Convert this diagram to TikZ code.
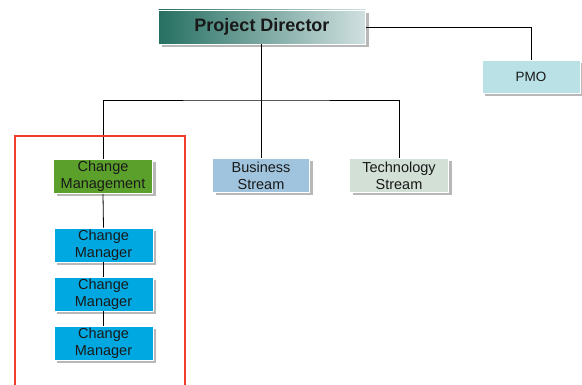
\documentclass[tikz,border=0pt]{standalone}
\usepackage{fontspec}
\setmainfont{Liberation Sans}
\usepackage{xcolor}
\usepackage{tikz}
\usetikzlibrary{shadows}

\definecolor{pdteal}{RGB}{38,112,98}
\definecolor{pdlight}{RGB}{208,224,224}
\definecolor{pmocyan}{RGB}{186,226,230}
\definecolor{chggreen}{RGB}{92,160,44}
\definecolor{busblue}{RGB}{160,196,222}
\definecolor{techgrey}{RGB}{210,224,214}
\definecolor{mgrblue}{RGB}{0,168,226}
\definecolor{frame}{RGB}{240,62,44}

\begin{document}
\begin{tikzpicture}[x=1pt,y=-1pt,
  box/.style={minimum width=99pt, minimum height=34pt, inner sep=1pt, align=center,
    draw=white, line width=0.6pt, text=black!90,
    font=\fontsize{14.5}{17}\selectfont,
    drop shadow={shadow xshift=3pt, shadow yshift=-3pt, fill=black!28, opacity=1}},
  link/.style={draw=black, line width=0.8pt}]
\useasboundingbox (0,0) rectangle (582,385);

% top of the tree
\node[box, minimum width=207pt, left color=pdteal, right color=pdlight,
  font=\fontsize{18}{20}\selectfont\bfseries] (pd) at (262,27) {Project Director};
\node[box, minimum width=98pt, minimum height=33pt, fill=pmocyan,
  font=\fontsize{13.5}{15}\selectfont] (pmo) at (531,76.5) {PMO};

% streams
\node[box, fill=chggreen] (chg) at (103,176.5) {Change\\Management};
\node[box, minimum width=97pt, fill=busblue] (bus) at (261,175.5) {Business\\Stream};
\node[box, fill=techgrey] (tech) at (399,175.5) {Technology\\Stream};

% managers under change management
\node[box, fill=mgrblue] (mgr1) at (103.5,245) {Change\\Manager};
\node[box, fill=mgrblue] (mgr2) at (103.5,294) {Change\\Manager};
\node[box, fill=mgrblue] (mgr3) at (103.5,343) {Change\\Manager};

\coordinate (bar) at (261,100);

\draw[link] (pd.east) -| (pmo.north);
\draw[link] (pd.south -| bar) -- (bar);
\draw[link] (chg.north) |- (bar) -| (tech.north);
\draw[link] (bar) -- (bus.north);
\draw[link] (chg.south) -- (mgr1.north);
\draw[link] (mgr1.south) -- (mgr2.north);
\draw[link] (mgr2.south) -- (mgr3.north);

\draw[frame, line width=2pt] (15,136) rectangle (185,395);
\end{tikzpicture}
\end{document}
